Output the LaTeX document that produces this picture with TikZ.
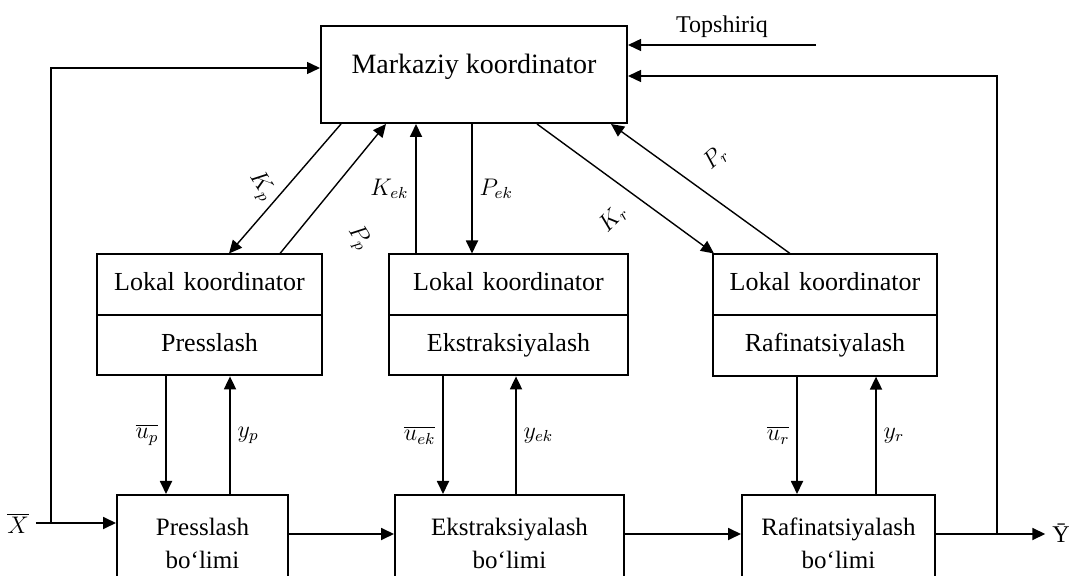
\documentclass[tikz,border=0pt]{standalone}
\usepackage{fontspec}
\setmainfont{Liberation Serif}
\usetikzlibrary{arrows.meta,shapes.multipart}
\newcommand{\lstrut}{\rule[-3pt]{0pt}{12pt}}

\begin{document}
\begin{tikzpicture}[x=0.5pt,y=-0.5pt,
	arr/.style={-{Triangle[length=6.5pt,width=6pt]},line width=0.9pt},
	thin arr/.style={arr,line width=0.7pt},
	blok/.style={draw,line width=1pt,minimum height=48pt,align=center,anchor=north,font=\fontsize{12.5}{16.5}\selectfont},
	lokal/.style={draw,line width=1pt,rectangle split,rectangle split parts=2,anchor=north,align=center,inner xsep=0pt,inner ysep=8.6pt,font=\fontsize{13}{15}\selectfont},
	lab/.style={font=\fontsize{12}{14}\selectfont}]
	%frame
	\useasboundingbox (0,0) rectangle (1091,576);
	\clip (0,0) rectangle (1091,576);

	%markaziy koordinator
	\node[draw,line width=1pt,minimum width=153pt,minimum height=48.5pt,text depth=11pt,font=\fontsize{14}{16}\selectfont] (mk) at (474,74.5) {Markaziy koordinator};

	%lokal koordinatorlar
	\node[lokal,text width=112.5pt] (lp) at (209.5,253.5) {\lstrut Lokal koordinator \nodepart{two}\lstrut Presslash};
	\node[lokal,text width=119.5pt] (le) at (508.5,253.5) {\lstrut Lokal koordinator \nodepart{two}\lstrut Ekstraksiyalash};
	\node[lokal,text width=112pt] (lr) at (825,253.5) {\lstrut Lokal koordinator \nodepart{two}\lstrut Rafinatsiyalash};

	%bo'limlar
	\node[blok,minimum width=85.5pt] (pb) at (202.5,494) {Presslash\\bo‘limi};
	\node[blok,minimum width=114.5pt] (eb) at (509.5,494) {Ekstraksiyalash\\bo‘limi};
	\node[blok,minimum width=96.5pt] (rb) at (838.5,494) {Rafinatsiyalash\\bo‘limi};

	%inputs and outputs
	\node[lab] (xbar) at (18,523) {$\overline{X}$};
	\node[lab] (ybar) at (1061,533) {\=Y};
	\coordinate (xj) at (51,523); %X branch
	\coordinate (yj) at (997,533); %Y branch
	\coordinate (tp) at (816,45); %task input

	%main flow
	\draw[arr] (xbar.east) -- (xbar.east -| pb.west);
	\draw[arr] ([yshift=4.5pt]pb.east) -- ([yshift=4.5pt]eb.west);
	\draw[arr] ([yshift=4.5pt]eb.east) -- ([yshift=4.5pt]rb.west);
	\draw[arr] ([yshift=4.5pt]rb.east) -- ([yshift=4.5pt]rb.east -| ybar.west);

	%feedback
	\draw[thin arr] (xj) |- ([yshift=3.25pt]mk.west);
	\draw[thin arr] (yj) |- ([yshift=-0.75pt]mk.east);
	\draw[thin arr] (tp) -- ([yshift=14.75pt]mk.east) node[midway,above,lab] (tlab) {Topshiriq};

	%coordination
	\draw[thin arr] ([xshift=10.5pt]mk.south west) -- ([xshift=66.5pt]lp.north west) node[pos=0.48,xshift=-13pt,rotate=-58,lab] (kp) {$K_p$};
	\draw[thin arr] ([xshift=92pt]lp.north west) -- ([xshift=33pt]mk.south west) node[pos=0.12,xshift=33pt,rotate=-58,lab] (pp) {$P_p$};
	\draw[arr] ([xshift=14pt]le.north west) -- ([xshift=48pt]mk.south west) node[midway,left,lab] (kek) {$K_{ek}$};
	\draw[arr] ([xshift=76pt]mk.south west) -- ([xshift=42pt]le.north west) node[midway,right,lab] (pek) {$P_{ek}$};
	\draw[thin arr] ([xshift=108.5pt]mk.south west) -- ([xshift=1pt]lr.north west) node[pos=0.73,xshift=-26.5pt,rotate=45,lab] (kr) {$K_r$};
	\draw[thin arr] ([xshift=39pt]lr.north west) -- ([xshift=145.5pt]mk.south west) node[pos=0.74,xshift=29pt,rotate=42,lab] (pr) {$P_r$};

	%local control
	\draw[arr] ([xshift=-21.75pt]lp.south) -- ([xshift=-21.75pt]lp.south |- pb.north) node[midway,left,lab] (up) {$\overline{u_p}$};
	\draw[arr] ([xshift=10.25pt]lp.south |- pb.north) -- ([xshift=10.25pt]lp.south) node[midway,right,lab] (yp) {$y_p$};
	\draw[arr] ([xshift=-32.75pt]le.south) -- ([xshift=-32.75pt]le.south |- eb.north) node[midway,left,lab] (uek) {$\overline{u_{ek}}$};
	\draw[arr] ([xshift=3.75pt]le.south |- eb.north) -- ([xshift=3.75pt]le.south) node[midway,right,lab] (yek) {$y_{ek}$};
	\draw[arr] ([xshift=-14pt]lr.south) -- ([xshift=-14pt]lr.south |- rb.north) node[midway,left,lab] (ur) {$\overline{u_r}$};
	\draw[arr] ([xshift=25.5pt]lr.south |- rb.north) -- ([xshift=25.5pt]lr.south) node[midway,right,lab] (yr) {$y_r$};
\end{tikzpicture}
\end{document}
